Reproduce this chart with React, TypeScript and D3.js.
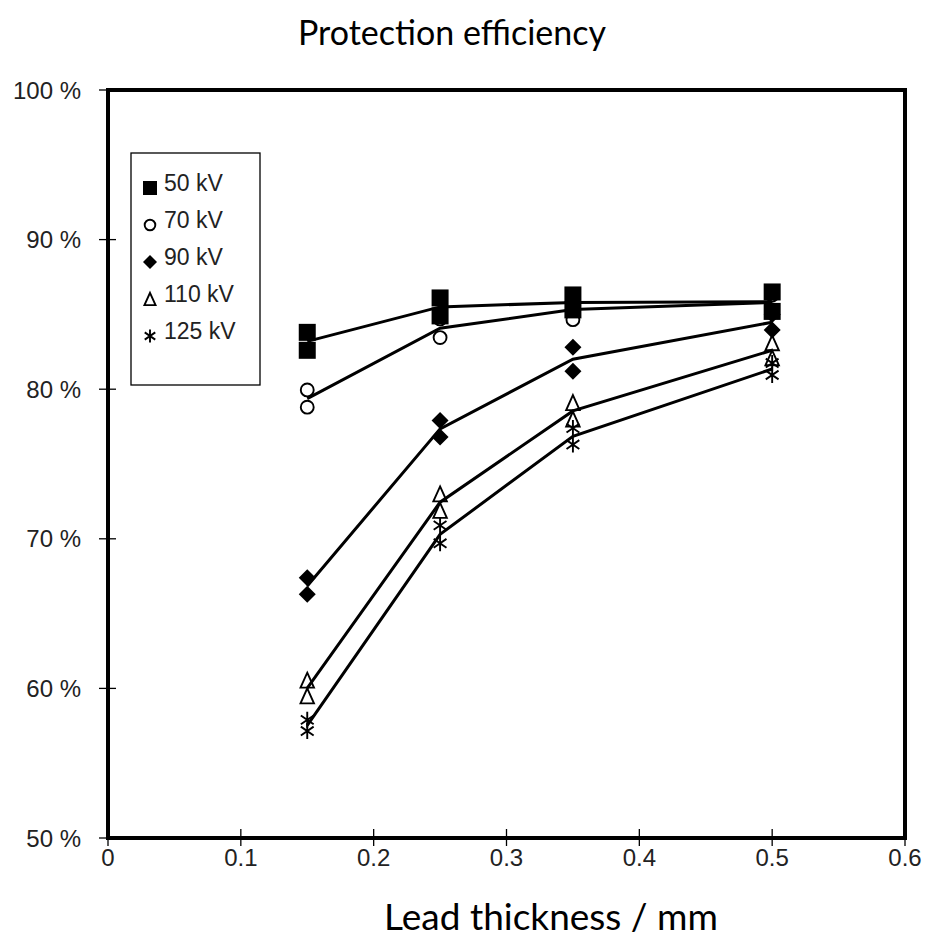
import React from "react";
import * as d3 from "d3";

const thickness = [0.15, 0.25, 0.35, 0.5];
const seriesNames = ["50 kV", "70 kV", "90 kV", "110 kV", "125 kV"];
const markerTypes = ["square", "circle", "diamond", "triangle", "asterisk"];
// two measurements per thickness for each voltage
const kv50High = [83.8, 86.1, 86.3, 86.5];
const kv50Low = [82.6, 84.9, 85.3, 85.2];
const kv70High = [79.95, 84.7, 86.0, 86.3];
const kv70Low = [78.8, 83.45, 84.65, 85.3];
const kv90High = [67.4, 77.9, 82.8, 85.0];
const kv90Low = [66.3, 76.8, 81.2, 83.95];
const kv110High = [60.55, 73.0, 79.1, 83.1];
const kv110Low = [59.5, 71.9, 78.0, 82.1];
const kv125High = [57.9, 70.9, 77.4, 81.75];
const kv125Low = [57.15, 69.7, 76.3, 80.95];
const xTicks = [0, 0.1, 0.2, 0.3, 0.4, 0.5, 0.6];
const yTicks = [50, 60, 70, 80, 90, 100];

const highs = [kv50High, kv70High, kv90High, kv110High, kv125High];
const lows = [kv50Low, kv70Low, kv90Low, kv110Low, kv125Low];

const W = 928, H = 945;
const x = d3.scaleLinear().domain([0, 0.6]).range([108, 905]);
const y = d3.scaleLinear().domain([50, 100]).range([838, 90]);

function Marker({ type, cx, cy, s }: { type: string; cx: number; cy: number; s: number }) {
  const sw = 1.9;
  if (type === "square") {
    return <rect x={cx - s / 2} y={cy - s / 2} width={s} height={s} fill="#000" />;
  }
  if (type === "circle") {
    return <circle cx={cx} cy={cy} r={s * 0.38} fill="none" stroke="#000" strokeWidth={sw} />;
  }
  if (type === "diamond") {
    const h = s * 0.5;
    return <path d={`M${cx},${cy - h}L${cx + h},${cy}L${cx},${cy + h}L${cx - h},${cy}Z`} fill="#000" />;
  }
  if (type === "triangle") {
    const h = s * 0.44;
    return (
      <path
        d={`M${cx},${cy - h}L${cx + h * 0.9},${cy + h}L${cx - h * 0.9},${cy + h}Z`}
        fill="none"
        stroke="#000"
        strokeWidth={sw}
      />
    );
  }
  const h = s * 0.47;
  const dx = h * 0.8, dy = h * 0.55;
  return (
    <path
      d={`M${cx},${cy - h}L${cx},${cy + h}M${cx - dx},${cy - dy}L${cx + dx},${cy + dy}M${cx - dx},${cy + dy}L${cx + dx},${cy - dy}`}
      stroke="#000"
      strokeWidth={sw}
      fill="none"
    />
  );
}

export default function App() {
  const line = d3
    .line<number>()
    .x((_, i) => x(thickness[i]))
    .y((d) => y(d));

  const order = [4, 3, 2, 1, 0];
  const tickFont = "'Liberation Sans', Arial, sans-serif";

  return (
    <svg
      width={W}
      height={H}
      style={{ position: "absolute", left: 0, top: 0, background: "#fff" }}
      xmlns="http://www.w3.org/2000/svg"
    >
      <rect width={W} height={H} fill="#fff" />
      <text x={452} y={45} textAnchor="middle" fontFamily="Lato, sans-serif" fontSize={34} fill="#000">
        Protection efficiency
      </text>

      {/* lines */}
      {order.map((si) => {
        const means = highs[si].map((v, i) => (v + lows[si][i]) / 2);
        return <path key={"l" + si} d={line(means) || ""} fill="none" stroke="#000" strokeWidth={3} />;
      })}

      {/* markers */}
      {order.map((si) => (
        <g key={"m" + si}>
          {thickness.map((t, i) => (
            <g key={i}>
              <Marker type={markerTypes[si]} cx={x(t)} cy={y(highs[si][i])} s={17} />
              <Marker type={markerTypes[si]} cx={x(t)} cy={y(lows[si][i])} s={17} />
            </g>
          ))}
        </g>
      ))}

      {/* frame */}
      <rect x={108} y={90} width={905 - 108} height={838 - 90} fill="none" stroke="#000" strokeWidth={4} />

      {/* y ticks */}
      {yTicks.map((t) => (
        <g key={"y" + t}>
          <line x1={99} x2={116} y1={y(t)} y2={y(t)} stroke="#000" strokeWidth={1.3} />
          <text
            x={81}
            y={y(t)}
            textAnchor="end"
            dy="0.36em"
            fontFamily={tickFont}
            fontSize={24}
            fill="#222"
          >
            {t} %
          </text>
        </g>
      ))}

      {/* x ticks */}
      {xTicks.map((t) => (
        <g key={"x" + t}>
          <line x1={x(t)} x2={x(t)} y1={829} y2={846} stroke="#000" strokeWidth={1.3} />
          <text
            x={x(t)}
            y={857}
            textAnchor="middle"
            dy="0.36em"
            fontFamily={tickFont}
            fontSize={24}
            fill="#222"
          >
            {t === 0 ? "0" : d3.format(".1f")(t)}
          </text>
        </g>
      ))}

      <text x={551} y={930} textAnchor="middle" fontFamily="Lato, sans-serif" fontSize={37} fill="#000">
        Lead thickness / mm
      </text>

      {/* legend */}
      <rect x={131} y={153} width={129} height={232} fill="#fff" stroke="#000" strokeWidth={1.3} />
      {seriesNames.map((name, i) => {
        const ty = 183 + i * 37;
        return (
          <g key={name}>
            <Marker type={markerTypes[i]} cx={150} cy={ty + 5} s={14} />
            <text x={164} y={ty} dy="0.36em" fontFamily={tickFont} fontSize={23} fill="#222">
              {name}
            </text>
          </g>
        );
      })}
    </svg>
  );
}
